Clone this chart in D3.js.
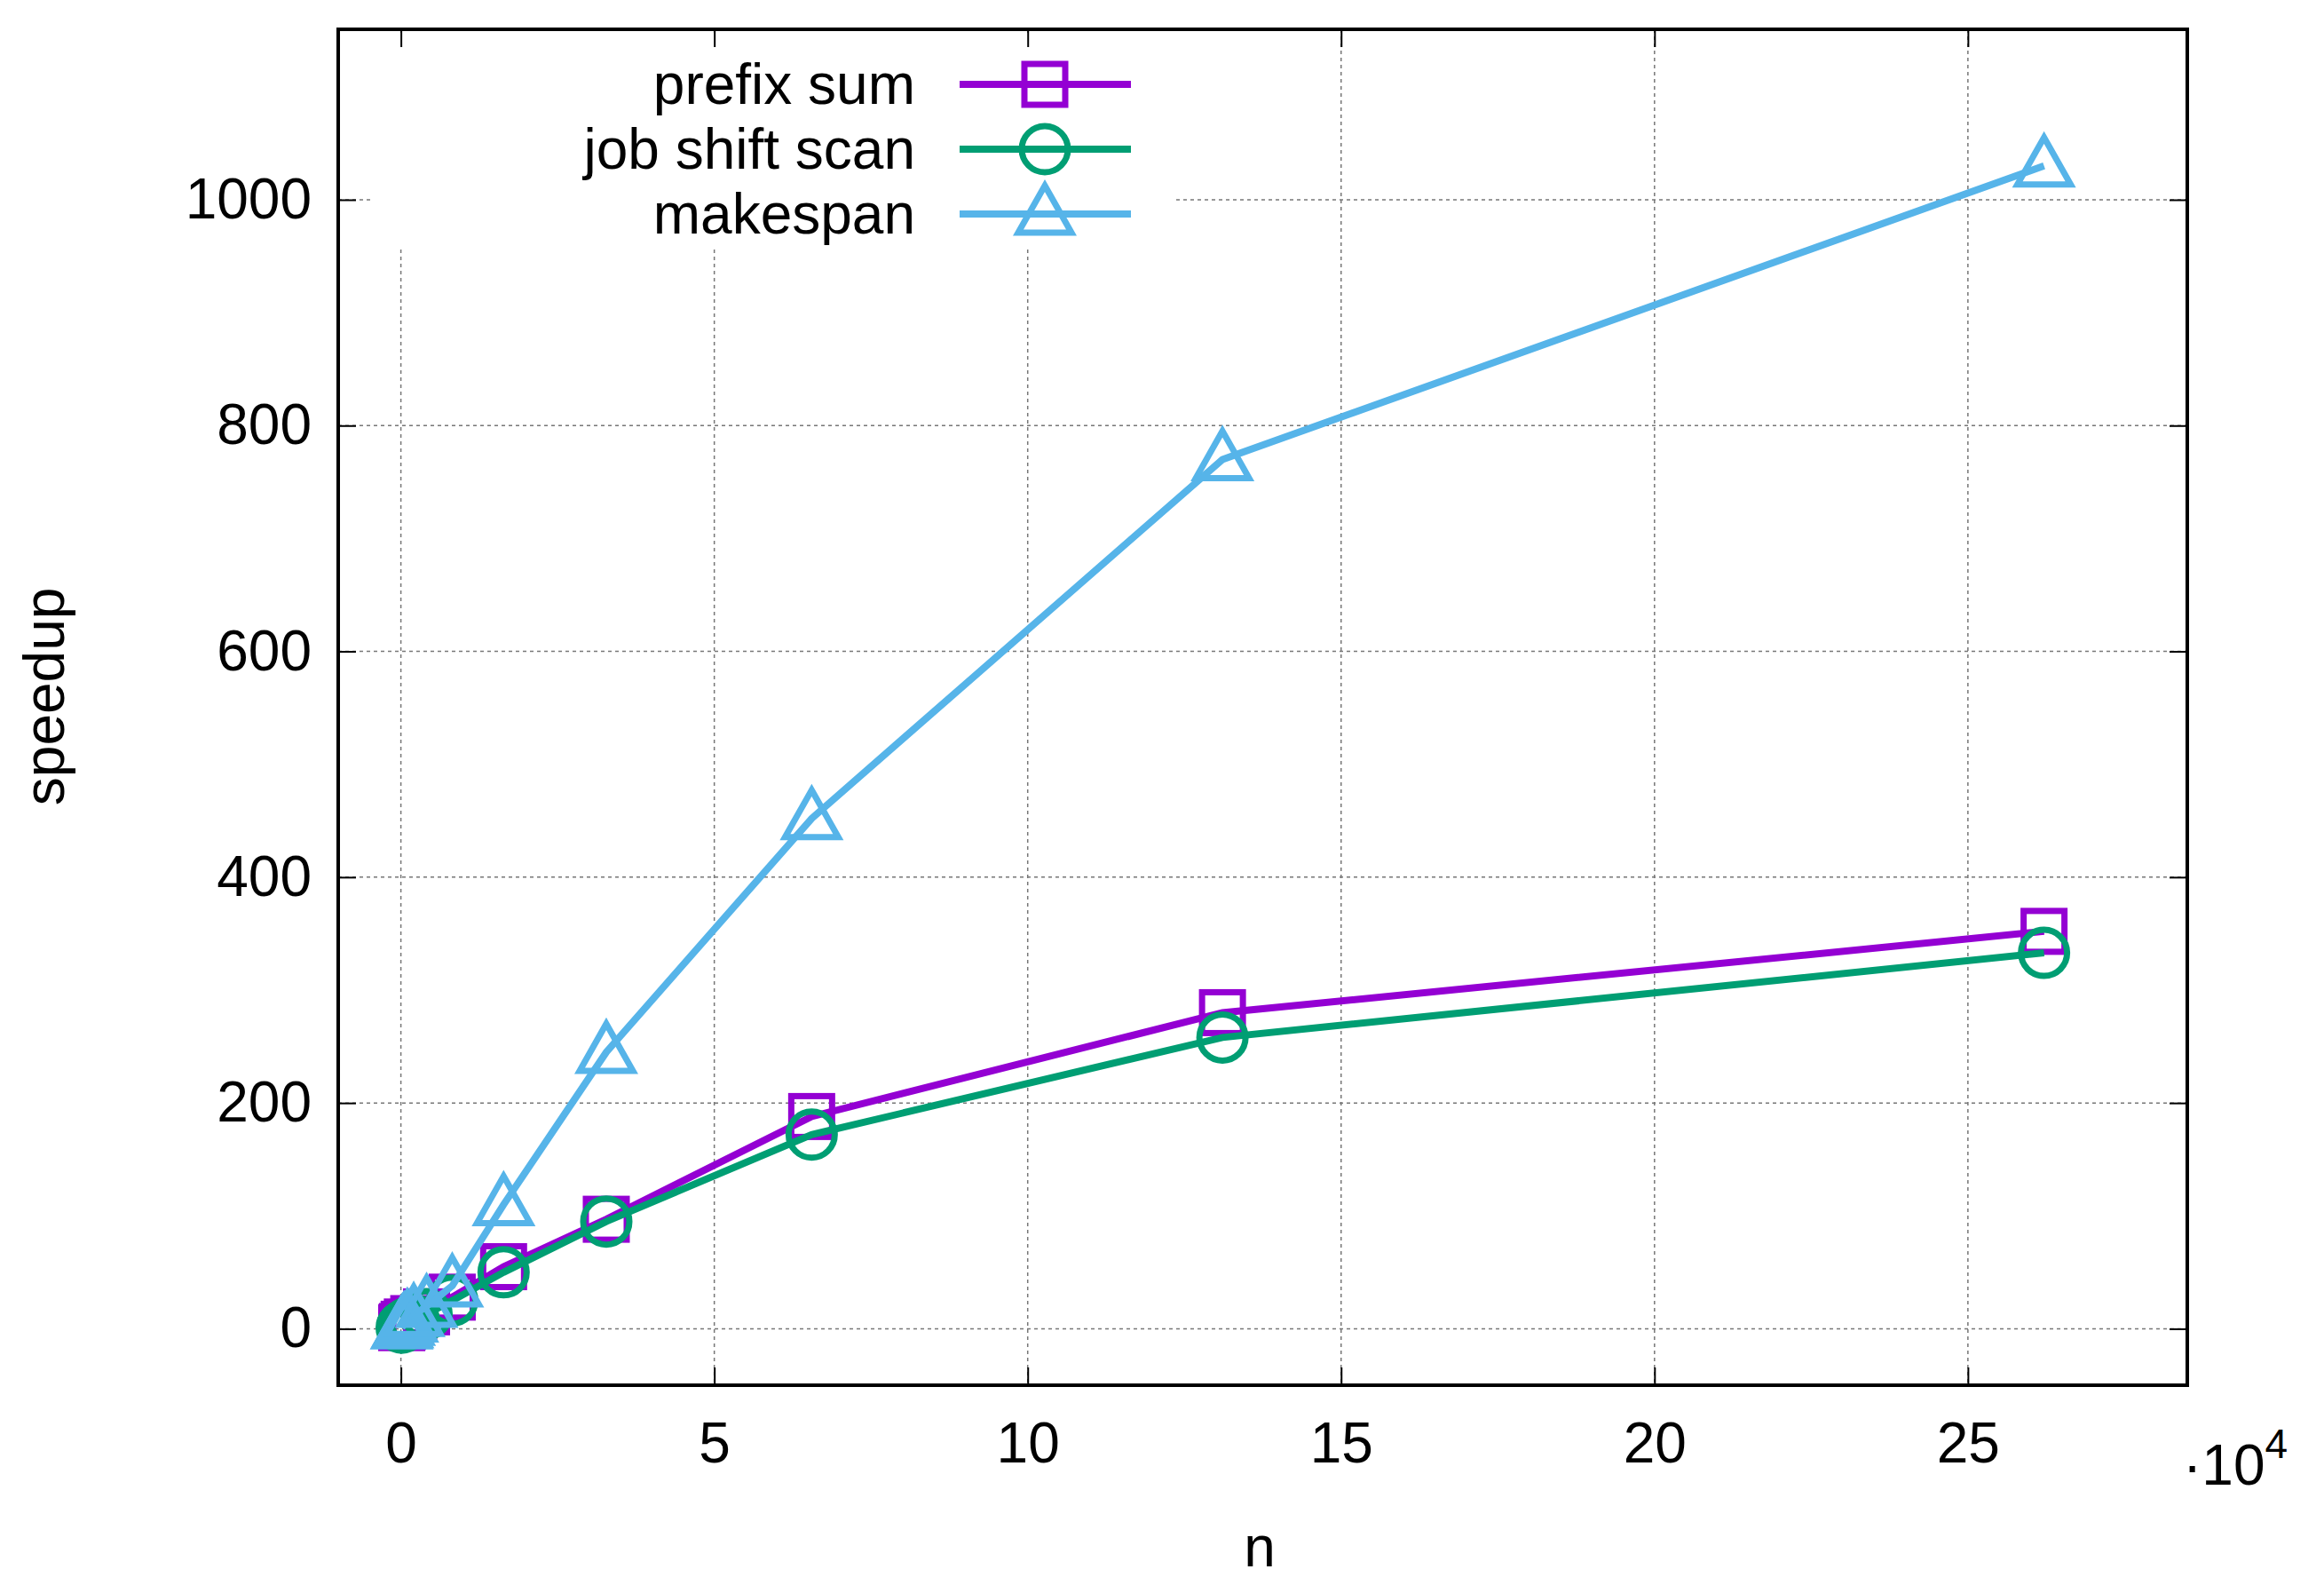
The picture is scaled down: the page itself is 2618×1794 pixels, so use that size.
<!DOCTYPE html>
<html>
<head>
<meta charset="utf-8">
<script src="https://cdn.jsdelivr.net/npm/d3@7"></script>
<style>
  body { margin: 0; background: #fff; }
  text { font-family: "Liberation Sans", Arial, sans-serif; }
</style>
</head>
<body>
<div id="chart"></div>
<script>
// n values (powers of two)
const nValues = [128, 256, 512, 1024, 2048, 4096, 8192, 16384, 32768, 65536, 131072, 262144];
const prefixSum = [1, 2, 4, 6, 9, 15, 28, 55, 97, 188, 280, 352];
const jobShiftScan = [1, 2, 3, 5, 8, 13, 25, 50, 95, 172, 258, 333];
const makespan = [1, 2, 4, 7, 12, 20, 38, 110, 245, 452, 770, 1030];
const xTicks = [0, 5, 10, 15, 20, 25];
const yTicks = [0, 200, 400, 600, 800, 1000];

const series = [
  { name: "prefix sum", values: prefixSum, color: "#9400d3", marker: "square" },
  { name: "job shift scan", values: jobShiftScan, color: "#009e73", marker: "circle" },
  { name: "makespan", values: makespan, color: "#56b4e9", marker: "triangle" }
];

const W = 2618, H = 1794;
const margin = { top: 33, right: 154, bottom: 234, left: 381 };
const width = W - margin.left - margin.right;
const height = H - margin.top - margin.bottom;
const fs = 64;

const svg = d3.select("#chart").append("svg")
  .attr("width", W).attr("height", H);
const g = svg.append("g").attr("transform", `translate(${margin.left},${margin.top})`);

const x = d3.scaleLinear().domain([-1, 28.5]).range([0, width]);
const y = d3.scaleLinear().domain([-50, 1151]).range([height, 0]);

// grid
g.selectAll(".gx").data(xTicks).enter().append("line")
  .attr("x1", d => x(d)).attr("x2", d => x(d)).attr("y1", 0).attr("y2", height)
  .attr("stroke", "#777").attr("stroke-width", 1.5).attr("stroke-dasharray", "4,4");
g.selectAll(".gy").data(yTicks).enter().append("line")
  .attr("x1", 0).attr("x2", width).attr("y1", d => y(d)).attr("y2", d => y(d))
  .attr("stroke", "#777").attr("stroke-width", 1.5).attr("stroke-dasharray", "4,4");

// legend background hides grid
g.append("rect").attr("x", 40).attr("y", 8).attr("width", 900).attr("height", 240).attr("fill", "#fff");

// axes (ticks on all sides, gnuplot style)
const tickLen = 20;
const xAxis = d3.axisBottom(x).tickValues(xTicks).tickSize(-tickLen).tickPadding(42).tickFormat(d3.format("d"));
const yAxis = d3.axisLeft(y).tickValues(yTicks).tickSize(-tickLen).tickPadding(30).tickFormat(d3.format("d"));
const ax = g.append("g").attr("transform", `translate(0,${height})`).call(xAxis);
const ay = g.append("g").call(yAxis);
g.append("g").call(d3.axisTop(x).tickValues(xTicks).tickSize(-tickLen).tickFormat(""));
g.append("g").attr("transform", `translate(${width},0)`).call(d3.axisRight(y).tickValues(yTicks).tickSize(-tickLen).tickFormat(""));
g.selectAll(".domain").remove();
g.selectAll(".tick line").attr("stroke", "#000").attr("stroke-width", 2);
[ax, ay].forEach(a => a.selectAll("text").attr("font-size", fs).attr("fill", "#000")
  .style("font-family", "Liberation Sans, Arial, sans-serif"));
ax.selectAll("text").attr("dy", "0.71em");

g.append("rect").attr("width", width).attr("height", height)
  .attr("fill", "none").attr("stroke", "#000").attr("stroke-width", 4);

// x multiplier
const mult = g.append("text").attr("x", width - 5).attr("y", height + 112).attr("font-size", fs);
mult.append("tspan").text("\u00b710");
mult.append("tspan").attr("dy", -30).attr("font-size", 46).text("4");

// axis titles
svg.append("text").attr("x", margin.left + x(13.7)).attr("y", H - 30)
  .attr("text-anchor", "middle").attr("font-size", fs).text("n");
svg.append("text").attr("transform", `translate(72,${margin.top + y(560)}) rotate(-90)`)
  .attr("text-anchor", "middle").attr("font-size", fs).text("speedup");

function marker(sel, type, color) {
  const s = 23;
  if (type === "square") {
    sel.append("rect").attr("x", -s).attr("y", -s).attr("width", 2 * s).attr("height", 2 * s);
  } else if (type === "circle") {
    sel.append("circle").attr("r", s + 3);
  } else {
    sel.append("path").attr("d", `M0,${-s - 9}L${s + 7},${s - 2}L${-s - 7},${s - 2}Z`);
  }
  sel.selectAll("*").attr("fill", "none").attr("stroke", color).attr("stroke-width", 7);
}

const line = d3.line().x((d, i) => x(nValues[i] / 1e4)).y(d => y(d));
series.forEach(s => {
  g.append("path").datum(s.values).attr("d", line)
    .attr("fill", "none").attr("stroke", s.color).attr("stroke-width", 8);
  s.values.forEach((v, i) => {
    marker(g.append("g").attr("transform", `translate(${x(nValues[i] / 1e4)},${y(v)})`), s.marker, s.color);
  });
});

// legend
series.forEach((s, i) => {
  const ly = 62 + i * 73;
  g.append("text").attr("x", 650).attr("y", ly).attr("dy", "0.35em")
    .attr("text-anchor", "end").attr("font-size", fs).text(s.name);
  g.append("line").attr("x1", 700).attr("x2", 893).attr("y1", ly).attr("y2", ly)
    .attr("stroke", s.color).attr("stroke-width", 8);
  marker(g.append("g").attr("transform", `translate(796,${ly})`), s.marker, s.color);
});
</script>
</body>
</html>
